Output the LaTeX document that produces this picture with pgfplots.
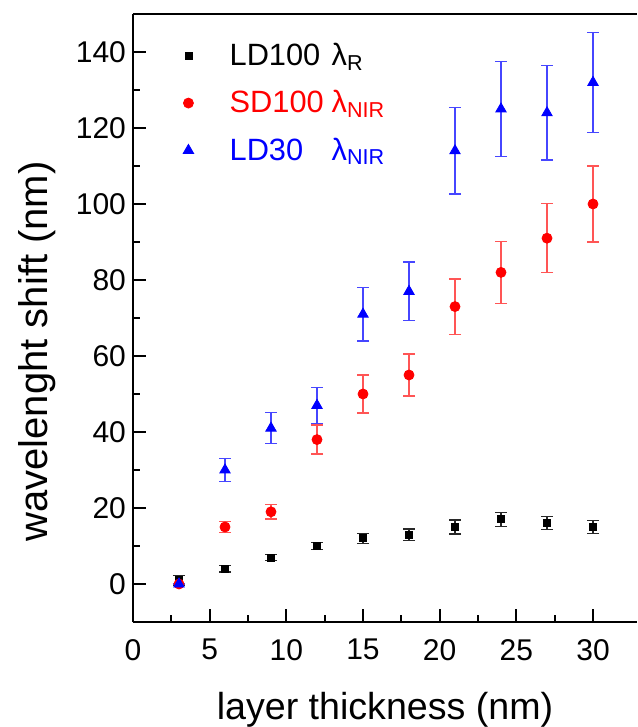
\documentclass[border=0pt]{standalone}
\usepackage{pgfplots}
\pgfplotsset{compat=1.18}
\usepackage{fontspec}
\setmainfont{Liberation Sans}
\definecolor{ebred}{RGB}{255,85,85}
\definecolor{ebblue}{RGB}{70,70,255}
\definecolor{ebblack}{RGB}{40,40,40}
\begin{document}
\begin{tikzpicture}
\begin{axis}[
  scale only axis, width=252pt, height=304pt,
  xmin=0, xmax=32.87, ymin=-10, ymax=150,
  axis x line=box, axis y line=left,
  axis line style={-, line width=1.1pt},
  xtick={0,5,...,30}, ytick={0,20,...,140},
  minor x tick num=1, minor y tick num=1,
  tick align=inside, xtick pos=left, ytick pos=left,
  major tick length=6.5pt, minor tick length=3.5pt,
  tick style={line width=0.9pt, black},
  /pgf/number format/assume math mode=true,
  tick label style={font=\fontsize{15}{17}\selectfont},
  xticklabel style={yshift=-5pt},
  xlabel={layer thickness (nm)},
  ylabel={wavelenght shift (nm)},
  xlabel style={font=\fontsize{18.8}{22}\selectfont, yshift=-9pt},
  ylabel style={font=\fontsize{20}{24}\selectfont, at={(ticklabel cs:0.445)}, yshift=3pt},
  legend style={draw=none, fill=none, at={(axis cs:3.25,143.5)}, anchor=north west,
    font=\fontsize{15.4}{17}\selectfont, row sep=7pt, column sep=16pt, inner sep=0pt},
  legend cell align=left,
  error bars/y dir=both, error bars/y explicit,
]
\addplot[only marks, mark=square*, mark size=1.75pt, black,
  error bars/error bar style={ebblack, line width=0.7pt},
  error bars/error mark options={rotate=90, mark size=3pt, ebblack, line width=0.7pt}]
  table[x=x, y=y, y error=e] {
x y e
3 1 1.3
6 4 0.8
9 7 0.8
12 10 1
15 12 1.3
18 13 1.5
21 15 1.8
24 17 1.8
27 16 1.7
30 15 1.7
};
\addlegendentry{\makebox[51pt][l]{LD100}λ\textsubscript{R}}
\addplot[only marks, mark=*, mark size=2.5pt, red,
  error bars/error bar style={ebred, line width=0.7pt},
  error bars/error mark options={rotate=90, mark size=3pt, ebred, line width=0.7pt}]
  table[x=x, y=y, y error=e] {
x y e
3 0 0
6 15 1.5
9 19 1.9
12 38 3.8
15 50 5
18 55 5.5
21 73 7.3
24 82 8.2
27 91 9.1
30 100 10
};
\addlegendentry{\textcolor{red}{\makebox[51pt][l]{SD100}λ\textsubscript{NIR}}}
\addplot[only marks, mark=triangle*, mark size=3pt, blue,
  error bars/error bar style={ebblue, line width=0.7pt},
  error bars/error mark options={rotate=90, mark size=3pt, ebblue, line width=0.7pt}]
  table[x=x, y=y, y error=e] {
x y e
3 0 0
6 30 3
9 41 4.1
12 47 4.7
15 71 7.1
18 77 7.7
21 114 11.4
24 125 12.5
27 124 12.4
30 132 13.2
};
\addlegendentry{\textcolor{blue}{\makebox[51pt][l]{LD30}λ\textsubscript{NIR}}}
\end{axis}
\pgfresetboundingbox
\path (-66.5pt,-52.5pt) rectangle (252pt,311pt);
\end{tikzpicture}
\end{document}
